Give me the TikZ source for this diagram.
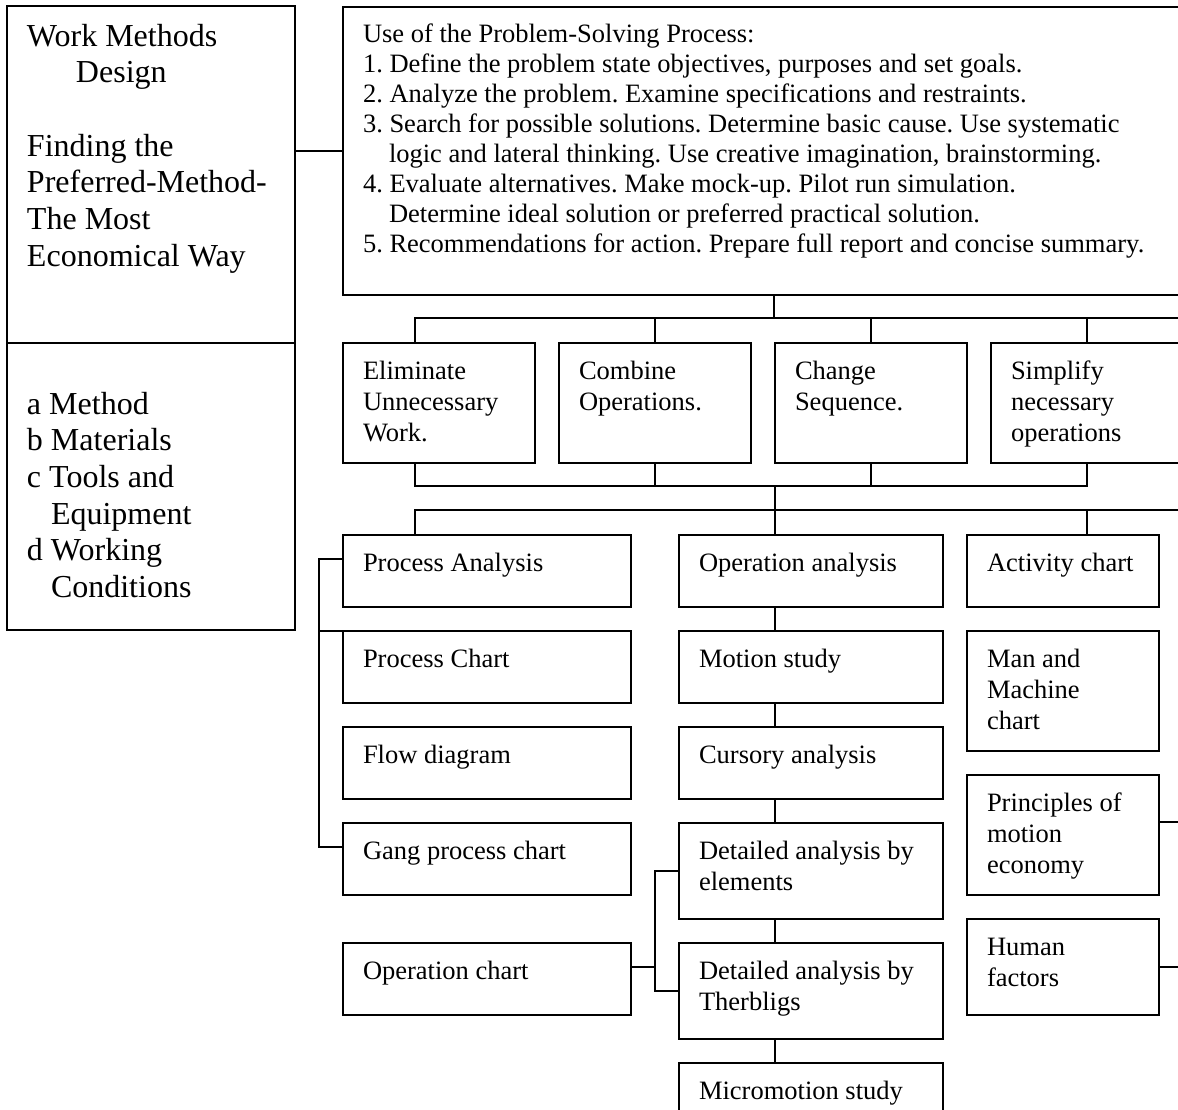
\documentclass[tikz,border=0pt]{standalone}
\usepackage{fontspec}
\setmainfont{Liberation Serif}
\frenchspacing
\newcommand\bt[4][36pt]{\parbox[c][#3][t]{#2}{\frenchspacing\raggedright\leftskip=20pt\relax\rule{0pt}{#1}#4}}
\tikzset{
  box/.style={draw, line width=1.8pt, inner sep=0pt, outer sep=0pt, anchor=north west, font=\fontsize{26.5}{31}\selectfont},
  bigbox/.style={box, font=\fontsize{32}{36.7}\selectfont},
  topbox/.style={box, font=\fontsize{26.5}{30}\selectfont},
  conn/.style={line width=1.8pt}
}
\begin{document}
\begin{tikzpicture}[x=1pt,y=-1pt]
\path[use as bounding box] (0,0) rectangle (1178,1109);
\clip (0,0) rectangle (1178,1109);
\fill[white] (0,0) rectangle (1178,1109);

% left column
\node[bigbox] (lt) at (7,6) {\bt[40pt]{288pt}{337pt}{Work Methods\\\hspace*{49pt}Design\\\mbox{}\\Finding the\\Preferred-Method-\\The Most\\Economical Way}};
\node[bigbox] (lb) at (7,343) {\bt[71pt]{288pt}{287pt}{a Method\\b Materials\\c Tools and\\\hspace*{24pt}Equipment\\d Working\\\hspace*{24pt}Conditions}};

% top box
\node[topbox] (top) at (343,7) {\bt[35pt]{840pt}{288pt}{Use of the Problem-Solving Process:\\
1. Define the problem state objectives, purposes and set goals.\\
2. Analyze the problem. Examine specifications and restraints.\\
3. Search for possible solutions. Determine basic cause. Use systematic\\
\hspace*{26pt}logic and lateral thinking. Use creative imagination, brainstorming.\\
4. Evaluate alternatives. Make mock-up. Pilot run simulation.\\
\hspace*{26pt}Determine ideal solution or preferred practical solution.\\
5. Recommendations for action. Prepare full report and concise summary.}};

% second row
\node[box] (elim) at (343,343) {\bt{192pt}{120pt}{Eliminate\\Unnecessary\\Work.}};
\node[box] (comb) at (559,343) {\bt{192pt}{120pt}{Combine\\Operations.}};
\node[box] (chg)  at (775,343) {\bt{192pt}{120pt}{Change\\Sequence.}};
\node[box] (simp) at (991,343) {\bt{192pt}{120pt}{Simplify\\necessary\\operations}};

% column 1
\node[box] (pa)  at (343,535) {\bt{288pt}{72pt}{Process Analysis}};
\node[box] (pc)  at (343,631) {\bt{288pt}{72pt}{Process Chart}};
\node[box] (fd)  at (343,727) {\bt{288pt}{72pt}{Flow diagram}};
\node[box] (gpc) at (343,823) {\bt{288pt}{72pt}{Gang process chart}};
\node[box] (oc)  at (343,943) {\bt{288pt}{72pt}{Operation chart}};

% column 2
\node[box] (oa)  at (679,535)  {\bt{264pt}{72pt}{Operation analysis}};
\node[box] (ms)  at (679,631)  {\bt{264pt}{72pt}{Motion study}};
\node[box] (ca)  at (679,727)  {\bt{264pt}{72pt}{Cursory analysis}};
\node[box] (dae) at (679,823)  {\bt{264pt}{96pt}{Detailed analysis by\\elements}};
\node[box] (dat) at (679,943)  {\bt{264pt}{96pt}{Detailed analysis by\\Therbligs}};
\node[box] (mm)  at (679,1063) {\bt{264pt}{72pt}{Micromotion study}};

% column 3
\node[box] (ac)  at (967,535) {\bt{192pt}{72pt}{Activity chart}};
\node[box] (mmc) at (967,631) {\bt{192pt}{120pt}{Man and\\Machine\\chart}};
\node[box] (pme) at (967,775) {\bt{192pt}{120pt}{Principles of\\motion\\economy}};
\node[box] (hf)  at (967,919) {\bt{192pt}{96pt}{Human\\factors}};

% coordinates
\coordinate (b1a) at (415,318);
\coordinate (b1e) at (1200,318);
\coordinate (j1)  at (774,318);
\coordinate (b2a) at (415,486);
\coordinate (j2)  at (775,486);
\coordinate (b3a) at (415,510);
\coordinate (b3e) at (1200,510);
\coordinate (c3)  at (1087,510);
\coordinate (br)  at (319,559);
\coordinate (br2) at (319,847);
\coordinate (oj)  at (655,967);
\coordinate (ot)  at (655,871);
\coordinate (ob)  at (655,991);
\coordinate (r1)  at (1200,822);
\coordinate (r2)  at (1200,967);

% connectors
\draw[conn] (top.west) -- (top.west -| lt.east);
\draw[conn] (j1) -- (j1 |- top.south);
\draw[conn] (b1a |- elim.north) -- (b1a) -- (b1e);
\draw[conn] (comb.north) -- (comb.north |- b1a);
\draw[conn] (chg.north) -- (chg.north |- b1a);
\draw[conn] (simp.north) -- (simp.north |- b1a);

\draw[conn] (b2a |- elim.south) -- (b2a) -- (b2a -| simp.south) -- (simp.south);
\draw[conn] (comb.south) -- (comb.south |- b2a);
\draw[conn] (chg.south) -- (chg.south |- b2a);
\draw[conn] (j2) -- (j2 |- b3a);

\draw[conn] (b3a |- pa.north) -- (b3a) -- (b3e);
\draw[conn] (j2 |- oa.north) -- (j2 |- b3a);
\draw[conn] (c3) -- (c3 |- ac.north);

\draw[conn] (br -| pa.west) -- (br) -- (br2) -- (br2 -| gpc.west);
\draw[conn] (pc.north west) -- (pc.north west -| br);

\draw[conn] (j2 |- oa.south) -- (j2 |- ms.north);
\draw[conn] (j2 |- ms.south) -- (j2 |- ca.north);
\draw[conn] (j2 |- ca.south) -- (j2 |- dae.north);
\draw[conn] (j2 |- dae.south) -- (j2 |- dat.north);
\draw[conn] (j2 |- dat.south) -- (j2 |- mm.north);

\draw[conn] (oj -| oc.east) -- (oj);
\draw[conn] (ot -| dae.west) -- (ot) -- (ob) -- (ob -| dat.west);

\draw[conn] (r1 -| pme.east) -- (r1);
\draw[conn] (r2 -| hf.east) -- (r2);
\end{tikzpicture}
\end{document}
